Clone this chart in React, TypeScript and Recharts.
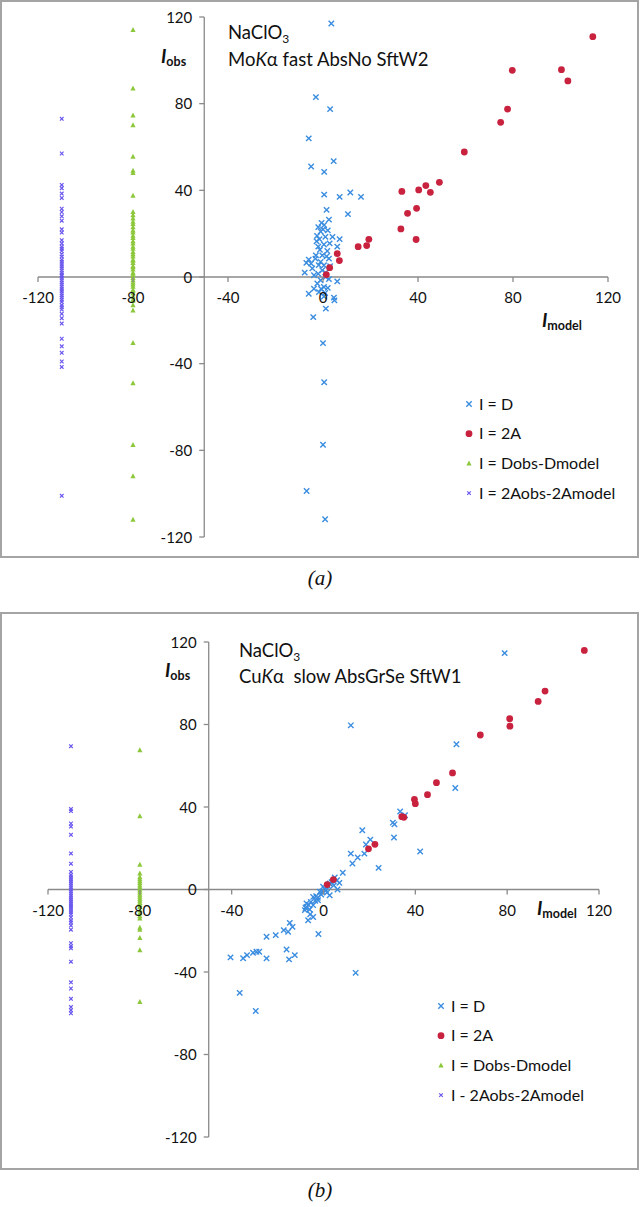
import React from 'react'
import { ScatterChart, Scatter, XAxis, YAxis, ReferenceLine } from 'recharts'

const TICKS = [-120, -80, -40, 0, 40, 80, 120]
const CROSS_X = -50
const PURPLE_X = -110
const GREEN_X = -80

// (a) MoKa fast AbsNo SftW2  -- [Imodel, Iobs]
const blueA = [
  [3.5, 117], [-3, 83], [3, 77.5], [-6, 64], [-5, 51], [4.5, 53.5], [0.5, 48.5], [0.5, 38],
  [7, 37], [11.5, 39], [16, 37], [1.5, 31], [10.5, 29], [2.5, 26.5], [-0.6, 25], [-2, 23],
  [0, 22], [-1, 21], [2, 21.5], [-2.5, 19], [4, 18.5], [7, 17.5], [-2.7, 16.5], [0.4, 15],
  [6, 14], [-1.3, 12.5], [1.8, 12], [-0.3, 10], [2.5, 8.5], [-6, 8], [-7, 6.5], [-5, 6.2],
  [-1, 7], [0.4, 5.4], [-7.7, 2], [-3.8, 0.8], [-0.3, 3.1], [1.1, 0], [6, -2], [-2.4, -3],
  [0.4, -4.6], [-3.8, -5.4], [-6, -7.7], [-1.7, -7], [4.6, -9.5], [0.4, -9], [0.9, -7.4],
  [4.8, -10.8], [1.2, -14.6], [-4.1, -18.5], [0, -30.5], [0.5, -48.6], [0, -77.4],
  [-6.9, -98.8], [0.9, -111.8], [-1.5, 17.5], [1, 18.5], [-2, 14], [1.5, 9.5], [-4.5, 4],
  [1, 2], [-2, 1.5], [2.5, -1], [-1, -1.5], [3, 5], [-3, 10], [0.5, 24], [-1.8, 5.5],
  [2.8, 15.5], [-0.8, -5.5], [2, -5], [-3.2, 8.5],
]
const redA = [
  [113.6, 110.9], [79.7, 95.4], [100.4, 95.7], [103.1, 90.5], [77.7, 77.5], [74.8, 71.4],
  [59.5, 57.7], [49, 43.7], [43.3, 42.2], [40.3, 40.2], [45.2, 39.1], [33.2, 39.5],
  [35.6, 29.4], [39.4, 31.7], [32.8, 22.2], [39.2, 17.3], [19.3, 17.4], [18.4, 14.5],
  [14.8, 14], [6, 10.8], [6.9, 7.6], [2.8, 4.3], [1.4, 1.1],
]
const greenA = [
  114, 87, 74.5, 70, 55.5, 49, 48, 37.5, 30, 28.5, 27, 25.5, 24.5, 23, 21.5, 20.5, 19, 18,
  16.5, 15.5, 14, 13, 11.5, 10.5, 9.5, 8, 7.5, 6.5, 5, 4.5, 3.5, 2, 1.5, 0.5, -0.5, -1.5,
  -2.5, -3.5, -4.5, -6, -6.5, -7.5, -9, -10.5, -11, -13, -15.5, -30.5, -49, -77.5, -92, -112,
]
const purpleA = [
  73, 57, 42.5, 41, 38.5, 36.5, 31.5, 30, 28, 26, 22, 20.5, 17, 15.5, 14, 13, 12, 10.5, 9.5,
  8, 7, 6, 5, 4, 3, 2, 1, 0.5, -0.5, -1.5, -2.5, -3.5, -4.5, -5.5, -6.5, -7.5, -8.5, -9.5,
  -10.5, -11.5, -13, -14, -15, -17, -19, -21.5, -28.5, -32, -35, -39, -41.5, -101,
]

// (b) CuKa slow AbsGrSe SftW1
const blueB = [
  [78.9, 114.6], [11.9, 79.6], [57.9, 70.4], [57.4, 49.2], [33.4, 37.8], [35.5, 36],
  [30.2, 32.4], [30.9, 31.6], [30.7, 25.2], [42.1, 18.4], [16.9, 28.7], [20.4, 24.2],
  [18.5, 21.8], [11.9, 17.4], [14.9, 15.5], [17.8, 17.4], [12.6, 12.6], [24, 10.5],
  [8.4, 8.1], [5.9, 4.5], [6.9, 3.2], [6.1, 0], [4.9, 5.8], [2.7, 2.9], [2.1, 1.6],
  [-0.2, 1.3], [-0.6, -1.1], [-1.6, -1.1], [-3.2, -3.2], [2.7, -2.8], [-4.5, -3.6],
  [-7.4, -6.8], [-7.4, -8.4], [-8.1, -10], [-6, -9.7], [-4.5, -7.6], [-2.4, -5.2],
  [-6.7, -14.9], [-4.5, -13.3], [-2.2, -21.6], [-14.7, -16.2], [-13.5, -18.1], [-15.4, -20.5],
  [-17.3, -19.7], [-20.8, -22.1], [-24.8, -22.9], [-16.1, -29.1], [-12.5, -31.8], [-15, -33.9],
  [-24.8, -33.4], [-40.5, -32.9], [-35, -33.3], [-33.3, -31.8], [-30.7, -30.7], [-29.2, -30.2],
  [-28, -30.2], [-36.5, -50.1], [-29.5, -58.9], [14, -40.4], [1, -0.5], [-1, -2.5],
  [-2.5, -4], [-5.5, -6], [-6.5, -7.5], [-7.8, -9], [-5.8, -12], [0.5, 0.5], [3.5, 3.5],
  [4.5, 2], [-3.6, -5.5], [1.5, -1.5],
]
const redB = [
  [113.6, 115.9], [96.5, 96.2], [93.5, 91.2], [81.1, 82.8], [81.2, 79.2], [68.3, 74.9],
  [56.2, 56.5], [49.2, 51.8], [45.3, 46], [39.6, 43.7], [40, 41.6], [34.1, 35.3], [35, 35],
  [22.4, 21.9], [19.6, 19.7], [4.3, 4.8], [1.6, 2.4],
]
const greenB = [
  67.5, 35.5, 12, 7.7, 6, 5, 4, 3, 2, 1, 0.5, -0.5, -1.5, -2.5, -3.5, -4.5, -5.5, -6.5,
  -7.5, -8.5, -10, -11.5, -13, -14, -18.5, -19.5, -23.5, -29.5, -54.5,
]
const purpleB = [
  69.5, 39, 38, 32, 30.5, 26.5, 17.5, 12.5, 8.5, 7, 6, 5, 4, 3, 2, 1, 0, -1, -2, -3, -4,
  -5, -6, -7, -8, -9, -10, -11, -12, -13.5, -15, -16, -17.5, -19.5, -26, -27.5, -28.5, -35,
  -45, -48, -53, -57, -58.5, -60,
]

const BLUE = '#3b8de0'
const RED = '#c8223f'
const GREEN = '#8dc83c'
const PURPLE = '#6a58ee'
const AXIS = '#8a8a8a'
const FONT = 'Lato, "Open Sans", sans-serif'

const toXY = (pts: number[][]) => pts.map(([x, y]) => ({ x, y }))
const column = (x: number, ys: number[]) => ys.map(y => ({ x, y }))

const xPath = (cx: number, cy: number, s: number) =>
  `M${cx - s},${cy - s}L${cx + s},${cy + s}M${cx - s},${cy + s}L${cx + s},${cy - s}`

const BlueMark = (p: any) => <path d={xPath(p.cx, p.cy, 2.7)} stroke={BLUE} strokeWidth={1.4} fill="none" />
const PurpleMark = (p: any) => <path d={xPath(p.cx, p.cy, 1.8)} stroke={PURPLE} strokeWidth={1.2} fill="none" />
const RedMark = (p: any) => <circle cx={p.cx} cy={p.cy} r={3.4} fill={RED} />
const GreenMark = (p: any) => (
  <polygon points={`${p.cx},${p.cy - 3} ${p.cx - 2.6},${p.cy + 2} ${p.cx + 2.6},${p.cy + 2}`} fill={GREEN} />
)

interface PanelProps {
  top: number
  margin: { top: number; right: number; bottom: number; left: number }
  blue: number[][]
  red: number[][]
  green: number[]
  purple: number[]
  source: string
  caption: string
  legendLast: string
  layout: {
    titleX: number; titleY1: number; titleY2: number
    obsX: number; obsY: number; modelX: number; modelY: number
    legX: number; legY: number; captionY: number
  }
}

const W = 640
const H = 560
const XAXIS_H = 20
const YAXIS_W = 30

function Panel({ top, margin, blue, red, green, purple, source, caption, legendLast, layout }: PanelProps) {
  const plotW = W - margin.left - margin.right
  const plotH = H - margin.top - margin.bottom
  const zeroY = margin.top + plotH / 2
  const crossX = margin.left + (plotW * (CROSS_X + 120)) / 240
  const L = layout
  const legend = [
    { label: 'I = D', mark: <BlueMark cx={0} cy={0} /> },
    { label: 'I = 2A', mark: <RedMark cx={0} cy={0} /> },
    { label: 'I = Dobs-Dmodel', mark: <GreenMark cx={0} cy={0} /> },
    { label: legendLast, mark: <PurpleMark cx={0} cy={0} /> },
  ]
  const [src1, src2] = source.split('|')
  // the axes keep their usual slots; ticks are drawn where the Excel axes cross
  const chartMargin = {
    top: margin.top,
    right: margin.right,
    bottom: margin.bottom - XAXIS_H,
    left: margin.left - YAXIS_W,
  }

  return (
    <div style={{ position: 'absolute', left: 0, top, width: W, height: 600 }}>
      <div style={{ position: 'absolute', left: 0, top: 0, width: 639, height: 558, border: '2px solid #a4a4a4', boxSizing: 'border-box' }} />
      <div style={{ position: 'absolute', left: 0, top: 0 }}>
        <ScatterChart width={W} height={H} margin={chartMargin}>
          <XAxis
            type="number" dataKey="x" domain={[-120, 120]} ticks={TICKS} interval={0}
            height={XAXIS_H} axisLine={false} tickLine={false}
            tick={(p: any) => (
              <g>
                <line x1={p.x} x2={p.x} y1={zeroY} y2={zeroY + 5} stroke={AXIS} strokeWidth={1.3} />
                <text x={p.x} y={zeroY + 26} textAnchor="middle" fontFamily={FONT} fontSize={15} fill="#111">{p.payload.value}</text>
              </g>
            )}
          />
          <YAxis
            type="number" dataKey="y" domain={[-120, 120]} ticks={TICKS} interval={0}
            width={YAXIS_W} axisLine={false} tickLine={false}
            tick={(p: any) => (
              <g>
                <line x1={crossX - 5} x2={crossX} y1={p.y} y2={p.y} stroke={AXIS} strokeWidth={1.3} />
                <text x={crossX - 12} y={p.y + 5.5} textAnchor="end" fontFamily={FONT} fontSize={15} fill="#111">{p.payload.value}</text>
              </g>
            )}
          />
          <ReferenceLine y={0} stroke={AXIS} strokeWidth={1.3} />
          <ReferenceLine x={CROSS_X} stroke={AXIS} strokeWidth={1.3} />
          <Scatter data={toXY(blue)} shape={BlueMark} isAnimationActive={false} />
          <Scatter data={toXY(red)} shape={RedMark} isAnimationActive={false} />
          <Scatter data={column(GREEN_X, green)} shape={GreenMark} isAnimationActive={false} />
          <Scatter data={column(PURPLE_X, purple)} shape={PurpleMark} isAnimationActive={false} />
        </ScatterChart>
      </div>
      <svg width={W} height={600} style={{ position: 'absolute', left: 0, top: 0, pointerEvents: 'none' }}>
        <g fontFamily={FONT} fill="#111">
          <text x={L.titleX} y={L.titleY1} fontSize={18.5}>
            NaClO<tspan fontSize={12} dy={4}>3</tspan>
          </text>
          <text x={L.titleX} y={L.titleY2} fontSize={18.5} style={{ whiteSpace: 'pre' }}>
            {src1}<tspan fontStyle="italic">K</tspan>{'\u03b1'}{src2}
          </text>
          <text x={L.obsX} y={L.obsY} fontWeight="bold">
            <tspan fontSize={19} fontStyle="italic">I</tspan>
            <tspan fontSize={12.5} dy={3}>obs</tspan>
          </text>
          <text x={L.modelX} y={L.modelY} fontWeight="bold">
            <tspan fontSize={19} fontStyle="italic">I</tspan>
            <tspan fontSize={12.5} dy={3}>model</tspan>
          </text>
          {legend.map((e, i) => (
            <g key={e.label} transform={`translate(${L.legX},${L.legY + i * 29.7})`}>
              {e.mark}
              <text x={10} y={5.5} fontSize={16}>{e.label}</text>
            </g>
          ))}
        </g>
        <text x={320} y={L.captionY} textAnchor="middle" fontFamily='"Liberation Serif", serif' fontStyle="italic" fontSize={21} fill="#111">
          {caption}
        </text>
      </svg>
    </div>
  )
}

export default function App() {
  return (
    <div style={{ position: 'absolute', left: 0, top: 0, width: 640, height: 1207, background: '#fff' }}>
      <Panel
        top={0}
        margin={{ top: 17, right: 32, bottom: 23, left: 38 }}
        blue={blueA} red={redA} green={greenA} purple={purpleA}
        source="Mo| fast AbsNo SftW2"
        caption="(a)"
        legendLast="I = 2Aobs-2Amodel"
        layout={{ titleX: 228, titleY1: 39, titleY2: 65.5, obsX: 161, obsY: 63, modelX: 542, modelY: 327, legX: 469, legY: 404, captionY: 585 }}
      />
      <Panel
        top={612}
        margin={{ top: 30, right: 41, bottom: 35, left: 48 }}
        blue={blueB} red={redB} green={greenB} purple={purpleB}
        source="Cu|  slow AbsGrSe SftW1"
        caption="(b)"
        legendLast="I - 2Aobs-2Amodel"
        layout={{ titleX: 239, titleY1: 44.5, titleY2: 70.5, obsX: 165, obsY: 65, modelX: 537, modelY: 303, legX: 441, legY: 394, captionY: 585 }}
      />
    </div>
  )
}
